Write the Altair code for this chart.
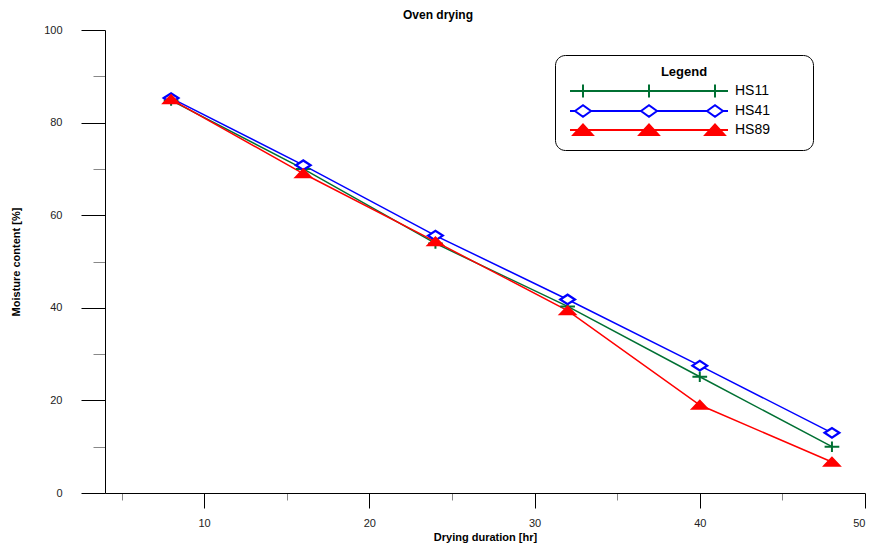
import altair as alt
import pandas as pd

# ---- data ----
hours = [8, 16, 24, 32, 40, 48]
hs11 = [84.8, 70.0, 53.9, 40.3, 25.1, 10.0]
hs41 = [85.3, 70.8, 55.6, 41.8, 27.5, 13.0]
hs89 = [85.0, 69.0, 54.3, 39.4, 19.0, 6.7]
series = ["HS11", "HS41", "HS89"]
x_ticks = [5, 10, 15, 20, 25, 30, 35, 40, 45, 50]
y_ticks = [0, 10, 20, 30, 40, 50, 60, 70, 80, 90, 100]

# ---- styles ----
stroke_colors = ["#007033", "#0000FF", "#FF0000"]
fill_colors = ["#007033", "#FFFFFF", "#FF0000"]
marker_widths = [2, 2.5, 1]
FONT = "Liberation Sans"

plot_shapes = [
    "M-1.05,0H1.05M0,-0.75V0.75",
    "M-1.05,0L0,-0.68L1.05,0L0,0.68Z",
    "M-1.0,0.5L0,-0.55L1.0,0.5Z",
]

# legend symbols: a line with three markers (unit = 8 px)
L = 9.875
C = [-8.25, 0.0, 8.25]
leg_plus = "M%.3f,0H%.3f" % (-L, L) + "".join(
    "M%.3f,-0.8V0.8M%.3f,0H%.3f" % (c, c - 0.8, c + 0.8) for c in C)
dw, dh = 1.0, 0.72
leg_diam = "".join(
    "M%.3f,0L%.3f,%.3fL%.3f,0L%.3f,%.3fZ" % (c - dw, c, -dh, c + dw, c, dh) for c in C)
leg_diam += "M%.3f,0H%.3f" % (-L, C[0] - dw)
leg_diam += "M%.3f,0H%.3f" % (C[0] + dw, C[1] - dw)
leg_diam += "M%.3f,0H%.3f" % (C[1] + dw, C[2] - dw)
leg_diam += "M%.3f,0H%.3f" % (C[2] + dw, L)
tw = 1.2
leg_tri = "M%.3f,0H%.3f" % (-L, L) + "".join(
    "M%.3f,0.62L%.3f,-0.68L%.3f,0.62Z" % (c - tw, c, c + tw) for c in C)
legend_shapes = [leg_plus, leg_diam, leg_tri]

rows = []
for name, vals in zip(series, [hs11, hs41, hs89]):
    for h, v in zip(hours, vals):
        rows.append({"hours": h, "moisture": v, "series": name})
df = pd.DataFrame(rows)

x_enc = alt.X(
    "hours:Q",
    scale=alt.Scale(domain=[4, 50], nice=False, zero=False),
    axis=alt.Axis(
        values=x_ticks,
        labelExpr="datum.value % 10 == 0 ? datum.label : ''",
        labelAlign={"condition": {"test": "datum.value == 50", "value": "right"}, "value": "center"},
        tickSize={"condition": {"test": "datum.value % 10 == 0", "value": 15}, "value": 7},
        tickColor={"condition": {"test": "datum.value % 10 == 0", "value": "#000000"}, "value": "#888888"},
        labelPadding=9,
        labelFlush=False,
        labelOverlap=False,
        title="Drying duration [hr]",
        titlePadding=3,
    ),
)
y_enc = alt.Y(
    "moisture:Q",
    scale=alt.Scale(domain=[0, 100], nice=False),
    axis=alt.Axis(
        values=y_ticks,
        labelExpr="datum.value % 20 == 0 ? datum.label : ''",
        tickSize={"condition": {"test": "datum.value % 20 == 0", "value": 24}, "value": 12},
        tickColor={"condition": {"test": "datum.value % 20 == 0", "value": "#000000"}, "value": "#888888"},
        labelPadding=19,
        labelOverlap=False,
        title="Moisture content [%]",
        titlePadding=22,
    ),
)

lines = alt.Chart(df).mark_line(strokeWidth=1.5).encode(
    x=x_enc,
    y=y_enc,
    color=alt.Color("series:N", scale=alt.Scale(domain=series, range=stroke_colors), legend=None),
    detail="series:N",
)

points = alt.Chart(df).mark_point(filled=True, size=196, opacity=1).encode(
    x=x_enc,
    y=y_enc,
    color=alt.Color("series:N", scale=alt.Scale(domain=series, range=fill_colors), legend=None),
    stroke=alt.Stroke("series:N", scale=alt.Scale(domain=series, range=stroke_colors), legend=None),
    shape=alt.Shape("series:N", scale=alt.Scale(domain=series, range=plot_shapes), legend=None),
    strokeWidth=alt.StrokeWidth("series:N", scale=alt.Scale(domain=series, range=marker_widths), legend=None),
)

leg = alt.Legend(
    title="Legend",
    orient="none",
    legendX=450,
    legendY=25,
    symbolSize=256,
    symbolStrokeWidth=2,
    symbolOffset=74,
    labelOffset=77,
    labelFont=FONT,
    labelFontSize=14,
    labelColor="#000000",
    labelExpr="datum.label + '\u00a0\u00a0\u00a0\u00a0\u00a0\u00a0\u00a0\u00a0\u200b'",
    titleFont=FONT,
    titleFontSize=13,
    titleFontWeight="bold",
    titleAnchor="middle",
    titleColor="#000000",
    titlePadding=3,
    rowPadding=-2,
    padding=11,
    strokeColor="#000000",
    fillColor="#FFFFFF",
    cornerRadius=10,
)

legend_layer = alt.Chart(df).transform_filter("datum.hours < 0").mark_point(filled=True, opacity=1).encode(
    color=alt.Color("series:N", scale=alt.Scale(domain=series, range=fill_colors), legend=leg),
    stroke=alt.Stroke("series:N", scale=alt.Scale(domain=series, range=stroke_colors), legend=leg),
    shape=alt.Shape("series:N", scale=alt.Scale(domain=series, range=legend_shapes), legend=leg),
)

chart = (
    alt.layer(lines, points, legend_layer)
    .resolve_scale(color="independent", stroke="independent", shape="independent")
    .properties(
        width=760,
        height=463,
        autosize=alt.AutoSizeParams(type="none"),
        padding={"left": 97, "top": 22, "right": 1, "bottom": 50},
        title=alt.Title("Oven drying", font=FONT, fontSize=12, fontWeight="bold",
                        anchor="middle", dx=-47, offset=2, color="#000000"),
    )
    .configure_axis(
        labelFont=FONT, labelFontSize=11, labelColor="#222222",
        titleFont=FONT, titleFontSize=11, titleFontWeight="bold", titleColor="#000000",
        domainColor="#000000", grid=False,
    )
    .configure_view(stroke=None)
)

chart.save("out.html", embed_options={"renderer": "svg", "actions": False})
